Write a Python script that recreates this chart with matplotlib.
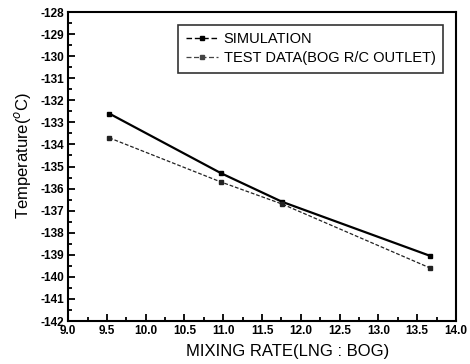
import matplotlib.pyplot as plt
from matplotlib.lines import Line2D
from matplotlib.ticker import MultipleLocator

plt.rcParams['font.family'] = ['Liberation Sans', 'DejaVu Sans']
plt.rcParams['axes.unicode_minus'] = False

mix_rate = [9.53, 10.97, 11.76, 13.67]
simulation = [-132.6, -135.3, -136.6, -139.05]
test_data = [-133.7, -135.7, -136.7, -139.6]
labels = ['SIMULATION', 'TEST DATA(BOG R/C OUTLET)']

fig = plt.figure(figsize=(4.7, 3.64), dpi=100)
ax = fig.add_axes([0.145, 0.118, 0.825, 0.849])

ax.plot(mix_rate, simulation, color='black', linestyle='-', linewidth=1.6,
        marker='s', markersize=3.5)
ax.plot(mix_rate, test_data, color='#222222', linestyle='--', linewidth=0.9,
        dashes=(3, 1.5), marker='s', markersize=3.5)

ax.set_xlim(9.0, 14.0)
ax.set_ylim(-142, -128)
ax.xaxis.set_major_locator(MultipleLocator(0.5))
ax.xaxis.set_minor_locator(MultipleLocator(0.25))
ax.yaxis.set_major_locator(MultipleLocator(1))
ax.yaxis.set_minor_locator(MultipleLocator(0.5))
ax.tick_params(which='both', direction='in', top=False, right=False,
               labelsize=8.5, width=1.3, pad=3)
ax.tick_params(which='major', length=5)
ax.tick_params(which='minor', length=3)
for lab in ax.get_xticklabels() + ax.get_yticklabels():
    lab.set_fontweight('bold')
for s in ax.spines.values():
    s.set_linewidth(1.5)

ax.set_xlabel('MIXING RATE(LNG : BOG)', fontsize=12)
ax.set_ylabel('Temperature($^{o}$C)', fontsize=12)
ax.xaxis.set_label_coords(0.565, -0.075)
ax.yaxis.set_label_coords(-0.09, 0.537)

handles = [Line2D([], [], color='black', linewidth=1.0, dashes=(4, 2),
                  marker='s', markersize=3.5),
           Line2D([], [], color='#444444', linewidth=0.9, dashes=(4, 2),
                  marker='s', markersize=3.5)]
leg = ax.legend(handles, labels, loc='upper right', bbox_to_anchor=(0.966, 0.958),
                fontsize=10.5, frameon=True, fancybox=False, edgecolor='black',
                handlelength=2.2, handletextpad=0.4, borderpad=0.5,
                labelspacing=0.35, borderaxespad=0)
leg.get_frame().set_linewidth(1.2)

fig.savefig('out.png', dpi=100)
